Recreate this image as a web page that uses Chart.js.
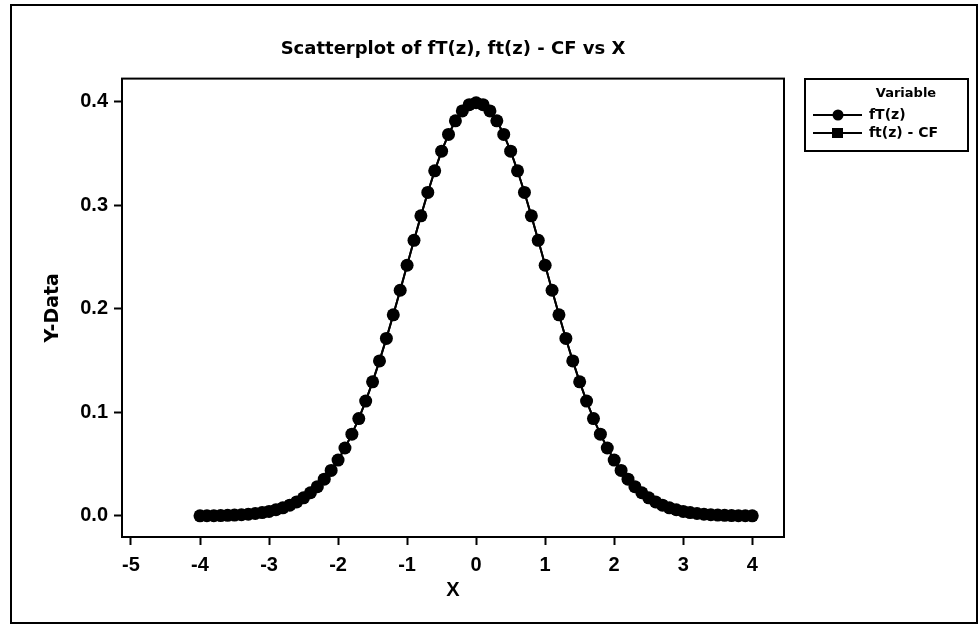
<!DOCTYPE html>
<html>
<head>
<meta charset="utf-8">
<script src="https://cdn.jsdelivr.net/npm/chart.js@4"></script>
<style>
  html, body { margin: 0; padding: 0; background: #fff; }
  #wrap { width: 980px; height: 626px; }
</style>
</head>
<body>
<div id="wrap"><canvas id="myChartsScatter"></canvas></div>
<script>
const xValues = [
  -4.0, -3.9, -3.8, -3.7, -3.6, -3.5, -3.4, -3.3, -3.2, -3.1,
  -3.0, -2.9, -2.8, -2.7, -2.6, -2.5, -2.4, -2.3, -2.2, -2.1,
  -2.0, -1.9, -1.8, -1.7, -1.6, -1.5, -1.4, -1.3, -1.2, -1.1,
  -1.0, -0.9, -0.8, -0.7, -0.6, -0.5, -0.4, -0.3, -0.2, -0.1,
  0.0, 0.1, 0.2, 0.3, 0.4, 0.5, 0.6, 0.7, 0.8, 0.9,
  1.0, 1.1, 1.2, 1.3, 1.4, 1.5, 1.6, 1.7, 1.8, 1.9,
  2.0, 2.1, 2.2, 2.3, 2.4, 2.5, 2.6, 2.7, 2.8, 2.9,
  3.0, 3.1, 3.2, 3.3, 3.4, 3.5, 3.6, 3.7, 3.8, 3.9, 4.0,
];

const fTz = [
  0.0001, 0.0002, 0.0003, 0.0004, 0.0006, 0.0009, 0.0012, 0.0017, 0.0024, 0.0033,
  0.0044, 0.0060, 0.0079, 0.0104, 0.0136, 0.0175, 0.0224, 0.0283, 0.0355, 0.0440,
  0.0540, 0.0656, 0.0790, 0.0940, 0.1109, 0.1295, 0.1497, 0.1714, 0.1942, 0.2179,
  0.2420, 0.2661, 0.2897, 0.3123, 0.3332, 0.3521, 0.3683, 0.3814, 0.3910, 0.3970,
  0.3989, 0.3970, 0.3910, 0.3814, 0.3683, 0.3521, 0.3332, 0.3123, 0.2897, 0.2661,
  0.2420, 0.2179, 0.1942, 0.1714, 0.1497, 0.1295, 0.1109, 0.0940, 0.0790, 0.0656,
  0.0540, 0.0440, 0.0355, 0.0283, 0.0224, 0.0175, 0.0136, 0.0104, 0.0079, 0.0060,
  0.0044, 0.0033, 0.0024, 0.0017, 0.0012, 0.0009, 0.0006, 0.0004, 0.0003, 0.0002, 0.0001,
];

const ftzCF = [
  0.0001, 0.0002, 0.0003, 0.0004, 0.0006, 0.0009, 0.0012, 0.0017, 0.0024, 0.0033,
  0.0044, 0.0060, 0.0079, 0.0104, 0.0136, 0.0175, 0.0224, 0.0283, 0.0355, 0.0440,
  0.0540, 0.0656, 0.0790, 0.0940, 0.1109, 0.1295, 0.1497, 0.1714, 0.1942, 0.2179,
  0.2420, 0.2661, 0.2897, 0.3123, 0.3332, 0.3521, 0.3683, 0.3814, 0.3910, 0.3970,
  0.3989, 0.3970, 0.3910, 0.3814, 0.3683, 0.3521, 0.3332, 0.3123, 0.2897, 0.2661,
  0.2420, 0.2179, 0.1942, 0.1714, 0.1497, 0.1295, 0.1109, 0.0940, 0.0790, 0.0656,
  0.0540, 0.0440, 0.0355, 0.0283, 0.0224, 0.0175, 0.0136, 0.0104, 0.0079, 0.0060,
  0.0044, 0.0033, 0.0024, 0.0017, 0.0012, 0.0009, 0.0006, 0.0004, 0.0003, 0.0002, 0.0001,
];

const xTicks = [-5, -4, -3, -2, -1, 0, 1, 2, 3, 4];
const yTicks = [0.0, 0.1, 0.2, 0.3, 0.4];
const seriesNames = ["fT(z)", "ft(z) - CF"];

const wideFont = "'DejaVu Sans', sans-serif";
const narrowFont = "'Liberation Sans', Arial, sans-serif";

const toPoints = (ys) => xValues.map((x, i) => ({ x: x, y: ys[i] }));

// frames around the whole picture and the plot area, plus the boxed legend
const framePlugin = {
  id: "framePlugin",
  afterDraw(chart) {
    const ctx = chart.ctx;
    const area = chart.chartArea;
    ctx.save();
    ctx.strokeStyle = "#000";
    ctx.lineWidth = 2;
    ctx.strokeRect(11, 5, 966, 618);
    ctx.strokeRect(area.left, area.top, area.right - area.left, area.bottom - area.top);

    // legend
    ctx.lineWidth = 2;
    ctx.strokeRect(805, 79, 163, 72);
    ctx.fillStyle = "#000";
    ctx.textBaseline = "middle";
    ctx.textAlign = "center";
    ctx.font = "bold 13px " + wideFont;
    ctx.fillText("Variable", 906, 94);
    ctx.textAlign = "left";
    ctx.font = "bold 14px " + wideFont;
    const rows = [115, 133];
    rows.forEach((y, i) => {
      ctx.lineWidth = 2;
      ctx.beginPath();
      ctx.moveTo(813, y);
      ctx.lineTo(862, y);
      ctx.stroke();
      ctx.beginPath();
      if (i === 0) {
        ctx.arc(838, y, 5.5, 0, Math.PI * 2);
      } else {
        ctx.rect(832, y - 5, 11, 10);
      }
      ctx.fill();
      ctx.fillText(seriesNames[i], 869, y);
    });
    ctx.restore();
  },
};

new Chart("myChartsScatter", {
  type: "scatter",
  data: {
    datasets: [
      {
        label: seriesNames[0],
        data: toPoints(fTz),
        showLine: true,
        borderColor: "#000",
        borderWidth: 2,
        backgroundColor: "#000",
        pointStyle: "circle",
        pointRadius: 6.5,
        pointBorderWidth: 0,
      },
      {
        label: seriesNames[1],
        data: toPoints(ftzCF),
        showLine: true,
        borderColor: "#000",
        borderWidth: 2,
        backgroundColor: "#000",
        pointStyle: "rect",
        pointRadius: 6.5,
        pointBorderWidth: 0,
      },
    ],
  },
  options: {
    responsive: true,
    maintainAspectRatio: false,
    animation: false,
    layout: {
      padding: { left: 0, top: 0, right: 196, bottom: 0 },
    },
    plugins: {
      legend: { display: false },
      tooltip: { enabled: false },
      title: {
        display: true,
        text: "Scatterplot of fT(z), ft(z) - CF vs X",
        fullSize: false,
        color: "#000",
        font: { family: wideFont, size: 18, weight: "bold", lineHeight: 1.2 },
        padding: { top: 39, bottom: 18 },
      },
    },
    scales: {
      x: {
        type: "linear",
        min: -5.13,
        max: 4.46,
        afterBuildTicks: (scale) => {
          scale.ticks = xTicks.map((v) => ({ value: v }));
        },
        afterFit: (scale) => {
          scale.height = 89;
        },
        ticks: {
          color: "#000",
          padding: 8,
          font: { family: narrowFont, size: 20, weight: "bold" },
        },
        grid: {
          drawOnChartArea: false,
          drawTicks: true,
          tickLength: 8,
          tickWidth: 2,
          color: "#000",
        },
        border: { display: false },
        title: {
          display: true,
          text: "X",
          color: "#000",
          font: { family: narrowFont, size: 20, weight: "bold", lineHeight: 1.2 },
          padding: { top: 0, bottom: 24 },
        },
      },
      y: {
        type: "linear",
        min: -0.0203,
        max: 0.4222,
        afterBuildTicks: (scale) => {
          scale.ticks = yTicks.map((v) => ({ value: v }));
        },
        afterFit: (scale) => {
          scale.width = 122;
        },
        ticks: {
          color: "#000",
          padding: 6,
          callback: (v) => v.toFixed(1),
          font: { family: narrowFont, size: 20, weight: "bold" },
        },
        grid: {
          drawOnChartArea: false,
          drawTicks: true,
          tickLength: 8,
          tickWidth: 2,
          color: "#000",
        },
        border: { display: false },
        title: {
          display: true,
          text: "Y-Data",
          color: "#000",
          font: { family: wideFont, size: 19, weight: "bold", lineHeight: 1.2 },
          padding: { top: 42, bottom: 0 },
        },
      },
    },
  },
  plugins: [framePlugin],
});
</script>
</body>
</html>
